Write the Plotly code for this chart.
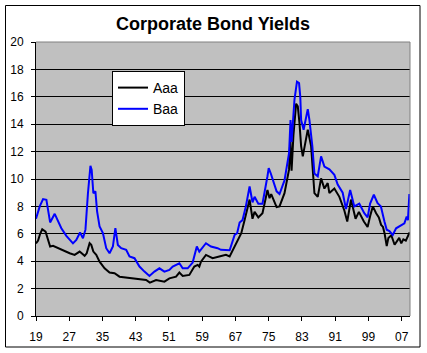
import plotly.graph_objects as go

# Moody's corporate bond yields (%) (decimal years)
aaa_dates = [1919.0, 1919.5, 1920.0, 1920.5, 1921.3, 1921.9, 1922.4, 1923.1, 1924.3, 1925.5,
             1927.1, 1928.3, 1929.5, 1930.7, 1931.2, 1931.9, 1932.3, 1932.8, 1933.5, 1934.3,
             1935.5, 1936.7, 1937.9, 1939.1, 1940.7, 1942.3, 1943.9, 1945.5, 1946.4, 1947.9,
             1949.9, 1951.1, 1952.7, 1953.5, 1954.3, 1955.9, 1957.1, 1957.9, 1958.3, 1958.7,
             1959.9, 1961.5, 1963.1, 1964.7, 1965.6, 1966.8, 1967.4, 1968.4, 1969.2, 1970.4,
             1971.1, 1971.6, 1972.5, 1973.5, 1974.7, 1975.2, 1975.6, 1976.9, 1977.6, 1978.8,
             1979.9, 1980.2, 1980.5, 1980.95, 1981.6, 1982.0, 1982.4, 1982.8, 1983.2, 1984.4,
             1985.2, 1986.0, 1986.8, 1987.6, 1988.4, 1989.2, 1989.6, 1990.8, 1992.0, 1993.2,
             1993.9, 1994.8, 1995.9, 1996.7, 1997.9, 1998.8, 1999.5, 2000.05, 2000.85, 2001.5,
             2002.05, 2002.5, 2002.9, 2003.4, 2003.8, 2004.5, 2005.3, 2006.4, 2006.9, 2007.4,
             2008.0, 2008.5, 2008.9]
aaa_yield = [5.3, 5.5, 6.0, 6.33, 6.16, 5.55, 5.07, 5.12, 4.95, 4.83,
             4.58, 4.46, 4.7, 4.39, 4.58, 5.31, 5.19, 4.7, 4.46, 3.97,
             3.48, 3.17, 3.12, 2.87, 2.8, 2.75, 2.68, 2.63, 2.44, 2.63,
             2.51, 2.75, 2.87, 3.17, 2.92, 3.0, 3.61, 3.73, 3.6, 3.97,
             4.46, 4.22, 4.34, 4.46, 4.34, 5.07, 5.43, 6.04, 7.0, 8.5,
             7.1, 7.6, 7.2, 7.5, 9.2, 8.6, 8.9, 7.95, 8.0, 8.97,
             10.7, 13.0, 10.6, 13.2, 15.5, 15.3, 14.1, 12.4, 11.65, 13.6,
             12.4, 8.97, 8.7, 10.05, 9.3, 9.7, 8.97, 9.3, 8.7, 7.7,
             6.9, 8.5, 7.1, 7.6, 6.9, 6.5, 7.4, 8.0, 7.5, 7.2,
             6.65, 6.5, 6.0, 5.1, 5.7, 5.9, 5.2, 5.7, 5.3, 5.6,
             5.5, 5.9, 6.1]

baa_dates = [1919.0, 1919.9, 1920.7, 1921.5, 1921.9, 1922.4, 1923.5, 1924.0, 1925.1, 1926.3,
             1927.9, 1928.7, 1929.6, 1930.3, 1930.9, 1931.5, 1932.1, 1932.4, 1932.8, 1933.3,
             1933.7, 1934.3, 1935.1, 1935.9, 1936.7, 1937.5, 1938.1, 1938.7, 1939.5, 1940.7,
             1941.5, 1942.7, 1943.9, 1945.1, 1946.3, 1947.5, 1948.7, 1949.9, 1951.1, 1951.9,
             1953.5, 1954.3, 1955.5, 1956.7, 1957.7, 1958.3, 1959.9, 1961.1, 1962.7, 1963.5,
             1964.7, 1965.6, 1966.8, 1967.4, 1968.0, 1968.7, 1969.5, 1970.4, 1971.1, 1971.6,
             1972.5, 1973.5, 1974.7, 1975.0, 1975.5, 1976.9, 1977.6, 1978.8, 1979.9, 1980.25,
             1980.5, 1980.95, 1981.2, 1981.8, 1982.3, 1982.6, 1982.8, 1983.4, 1984.4, 1984.8,
             1985.5, 1986.0, 1986.8, 1987.6, 1988.4, 1989.6, 1990.8, 1991.6, 1992.8, 1993.6,
             1994.6, 1995.6, 1996.8, 1998.0, 1998.8, 1999.4, 2000.3, 2001.2, 2002.0, 2002.85,
             2003.4, 2004.05, 2004.85, 2005.65, 2006.85, 2007.65, 2008.2, 2008.5, 2008.85]
baa_yield = [7.1, 8.0, 8.53, 8.48, 7.75, 6.83, 7.46, 7.14, 6.41, 5.85,
             5.3, 5.55, 6.09, 5.67, 6.3, 8.96, 10.96, 10.67, 8.96, 9.1,
             7.63, 6.53, 6.05, 4.95, 4.58, 5.07, 6.41, 5.19, 4.95, 4.83,
             4.34, 4.22, 3.61, 3.24, 2.92, 3.24, 3.48, 3.24, 3.36, 3.61,
             3.85, 3.48, 3.48, 3.9, 5.07, 4.7, 5.31, 5.07, 4.95, 4.83,
             4.83, 4.8, 5.92, 6.04, 6.82, 7.0, 8.0, 9.45, 8.3, 8.7,
             8.2, 8.2, 10.2, 10.8, 10.4, 9.1, 8.9, 9.9, 11.9, 14.3,
             12.7, 15.1, 15.8, 17.1, 17.0, 16.0, 14.3, 13.6, 15.1, 14.3,
             12.4, 10.4, 10.2, 11.65, 10.9, 10.7, 10.3, 9.6, 9.0, 7.8,
             9.2, 8.0, 8.2, 7.5, 7.2, 8.2, 8.85, 8.24, 8.0, 6.9,
             6.3, 6.2, 5.92, 6.4, 6.65, 6.77, 7.26, 7.0, 8.9]

tick_years = [1919, 1927, 1935, 1943, 1951, 1959, 1967, 1975, 1983, 1991, 1999, 2007]
tick_labels = ["19", "27", "35", "43", "51", "59", "67", "75", "83", "91", "99", "07"]

FONT = "Arial, Liberation Sans, sans-serif"

fig = go.Figure()
fig.add_trace(go.Scatter(x=aaa_dates, y=aaa_yield, mode="lines", name="Aaa",
                         line=dict(color="black", width=2)))
fig.add_trace(go.Scatter(x=baa_dates, y=baa_yield, mode="lines", name="Baa",
                         line=dict(color="#0000FF", width=2)))

W, H = 427, 353
L, R, T, B = 36, 410, 42, 316
pw, ph = R - L, B - T

def px_x(p):
    return (p - L) / pw

def px_y(p):
    return (B - p) / ph

fig.update_layout(
    width=W, height=H,
    margin=dict(l=L, r=W - R, t=T, b=H - B, autoexpand=False),
    paper_bgcolor="white",
    plot_bgcolor="#C0C0C0",
    font=dict(family=FONT, size=12, color="black"),
    title=dict(text="<b>Corporate Bond Yields</b>", x=px_x(213), xanchor="center",
               xref="paper", y=1 - 24 / H, yanchor="middle",
               font=dict(size=18, family=FONT)),
    showlegend=True,
    legend=dict(x=px_x(112), y=px_y(71), xanchor="left", yanchor="top",
                bgcolor="white", bordercolor="black", borderwidth=1,
                font=dict(size=14, family=FONT), itemwidth=30,
                tracegroupgap=0),
    xaxis=dict(range=[1919.0, 2009.0], tickvals=tick_years, ticktext=tick_labels,
               showgrid=False, zeroline=False, showline=True, linecolor="black",
               linewidth=1, ticks="outside", ticklen=4, tickcolor="black",
               automargin=False,
               ticklabelstandoff=6, tickfont=dict(size=12, family=FONT)),
    yaxis=dict(range=[0, 20], dtick=2, showgrid=True, gridcolor="black", gridwidth=1,
               zeroline=False, showline=True, linecolor="black", linewidth=1,
               ticks="outside", ticklen=4, tickcolor="black", automargin=False,
               ticklabelstandoff=5, tickfont=dict(size=12, family=FONT)),
    shapes=[
        # plot-area border (top and right, grey)
        dict(type="line", xref="paper", yref="paper", x0=0, x1=1, y0=1, y1=1,
             line=dict(color="#808080", width=1), layer="above"),
        dict(type="line", xref="paper", yref="paper", x0=1, x1=1, y0=0, y1=1,
             line=dict(color="#808080", width=1), layer="above"),
        # outer chart frame
        dict(type="rect", xref="paper", yref="paper",
             x0=px_x(5.5), x1=px_x(420), y0=px_y(347), y1=px_y(5.5),
             line=dict(color="black", width=1), fillcolor="rgba(0,0,0,0)"),
    ],
)

fig.write_html("out.html")
